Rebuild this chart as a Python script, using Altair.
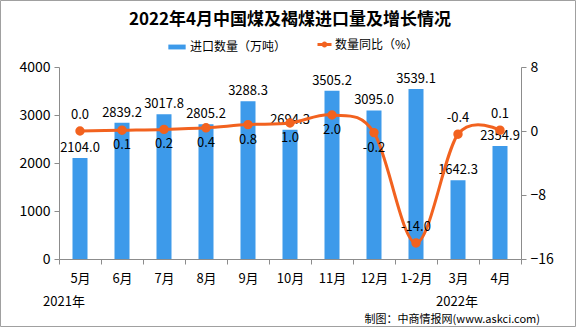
import altair as alt
import pandas as pd

months = ["5月", "6月", "7月", "8月", "9月", "10月", "11月", "12月", "1-2月", "3月", "4月"]
imports = [2104.0, 2839.2, 3017.8, 2805.2, 3288.3, 2694.3, 3505.2, 3095.0, 3539.1, 1642.3, 2354.9]
yoy = [0.0, 0.1, 0.2, 0.4, 0.8, 1.0, 2.0, -0.2, -14.0, -0.4, 0.1]
above_months = ["5月", "1-2月", "3月", "4月"]

df = pd.DataFrame({
    "month": months,
    "imports": imports,
    "yoy": yoy,
    "s1": "进口数量（万吨）",
    "s2": "数量同比（%）",
})
df["imp_label"] = df["imports"].map(lambda v: f"{v:.1f}")
df["yoy_label"] = df["yoy"].map(lambda v: f"{v:.1f}")

FONT = "Noto Sans CJK SC"
BLUE = "#3D9AEA"
ORANGE = "#F2621F"
AXIS_GREY = "#8C8C8C"

x = alt.X(
    "month:N", sort=months, title=None,
    scale=alt.Scale(paddingInner=0, paddingOuter=0),
    axis=alt.Axis(labelAngle=0, tickBand="extent", labelFont=FONT, labelFontSize=13,
                  labelColor="#000", labelPadding=8, domainColor=AXIS_GREY,
                  tickColor=AXIS_GREY, tickSize=5, grid=False),
)

base = alt.Chart(df)

bars = base.mark_bar(width=15).encode(
    x=x,
    y=alt.Y("imports:Q", title=None,
            scale=alt.Scale(domain=[0, 4000], nice=False),
            axis=alt.Axis(values=[0, 1000, 2000, 3000, 4000], format="d", labelFont=FONT,
                          labelFontSize=14, labelColor="#000", domainColor=AXIS_GREY,
                          tickColor=AXIS_GREY, tickSize=5, grid=False, labelPadding=4)),
    color=alt.Color("s1:N", scale=alt.Scale(range=[BLUE]),
                    legend=alt.Legend(orient="none", legendX=109, legendY=-29, title=None,
                                      symbolType="M-1,-0.28H1V0.28H-1Z", symbolSize=300,
                                      labelFont=FONT, labelFontSize=12, labelColor="#000",
                                      symbolStrokeWidth=0)),
)

bar_text = base.mark_text(font=FONT, fontSize=13, dy=-10, color="#000").encode(
    x=alt.X("month:N", sort=months),
    y=alt.Y("imports:Q"),
    text="imp_label:N",
)

title = alt.Chart(pd.DataFrame({"t": ["2022年4月中国煤及褐煤进口量及增长情况"]})).mark_text(
    font=FONT, fontSize=17, fontWeight="bold", color="#000", baseline="middle").encode(
    x=alt.value(231), y=alt.value(-47), text="t:N")
ann = alt.Chart(pd.DataFrame({"t": ["2021年"]})).mark_text(
    font=FONT, fontSize=13, color="#000").encode(
    x=alt.value(5), y=alt.value(235), text="t:N")
ann2 = alt.Chart(pd.DataFrame({"t": ["2022年"]})).mark_text(
    font=FONT, fontSize=13, color="#000").encode(
    x=alt.value(398), y=alt.value(235), text="t:N")
credit = alt.Chart(pd.DataFrame({"t": ["制图：中商情报网(www.askci.com)"]})).mark_text(
    font=FONT, fontSize=11, color="#000", align="right").encode(
    x=alt.value(481), y=alt.value(253), text="t:N")
border = alt.Chart(pd.DataFrame({"t": [0]})).mark_rect(
    fillOpacity=0, stroke="#A0A0A0", strokeWidth=1).encode(
    x=alt.value(-58.5), x2=alt.value(516.5), y=alt.value(-66.5), y2=alt.value(259.5))

left = alt.layer(bars, bar_text, title, ann, ann2, credit, border)

line = base.mark_line(interpolate="cardinal", strokeWidth=3,
                      point=alt.OverlayMarkDef(filled=True, fill=ORANGE, size=55)).encode(
    x=alt.X("month:N", sort=months),
    y=alt.Y("yoy:Q", title=None,
            scale=alt.Scale(domain=[-16, 8], nice=False),
            axis=alt.Axis(values=[-16, -8, 0, 8], orient="right", labelFont=FONT,
                          labelFontSize=14, labelColor="#000", domainColor=AXIS_GREY,
                          tickColor=AXIS_GREY, tickSize=5, grid=False, labelPadding=4)),
    stroke=alt.Stroke("s2:N", scale=alt.Scale(range=[ORANGE]),
                      legend=alt.Legend(orient="none", legendX=259, legendY=-29, title=None,
                                        symbolType="M-1.4,0H1.4M0.3,0A0.3,0.3,0,1,1,-0.3,0A0.3,0.3,0,1,1,0.3,0",
                                        symbolSize=100, symbolStrokeWidth=3,
                                        symbolFillColor=ORANGE,
                                        labelFont=FONT, labelFontSize=12, labelColor="#000")),
)

yoy_above = base.transform_filter(
    alt.FieldOneOfPredicate(field="month", oneOf=above_months)
).mark_text(font=FONT, fontSize=13, dy=-16, color="#000").encode(
    x=alt.X("month:N", sort=months), y=alt.Y("yoy:Q"), text="yoy_label:N")

yoy_below = base.transform_filter(
    ~alt.FieldOneOfPredicate(field="month", oneOf=above_months)
).mark_text(font=FONT, fontSize=13, dy=15, color="#000").encode(
    x=alt.X("month:N", sort=months), y=alt.Y("yoy:Q"), text="yoy_label:N")

right = alt.layer(line, yoy_above, yoy_below)

chart = alt.layer(left, right).resolve_scale(y="independent").properties(
    width=462, height=192,
    autosize=alt.AutoSizeParams(type="none"),
    padding={"left": 59, "top": 67, "right": 55, "bottom": 68},
    background="white",
).configure_view(stroke=None)

chart.save("out.html", embed_options={"renderer": "svg", "actions": False})
